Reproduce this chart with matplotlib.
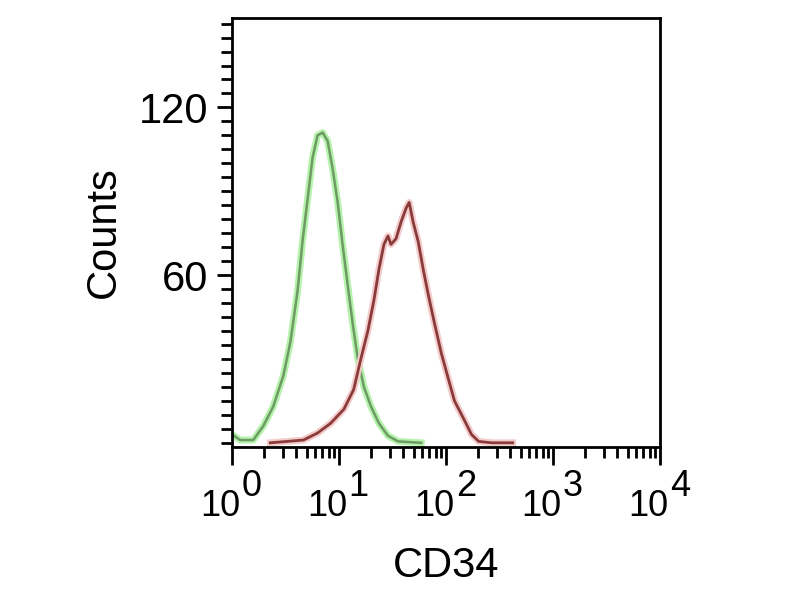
import matplotlib
matplotlib.use('Agg')
import matplotlib.pyplot as plt
import matplotlib.transforms as mtransforms
from matplotlib.ticker import FixedLocator, NullFormatter

plt.rcParams.update({
    'font.family': ['Liberation Sans', 'DejaVu Sans'],
    'axes.linewidth': 2.0,
})

# isotype control (green) and CD34 stained (red) histograms
green_x = [1.00, 1.19, 1.58, 1.96, 2.43, 3.02, 3.51, 4.09, 4.56, 5.08, 5.66, 6.30,
           7.03, 7.83, 8.73, 9.72, 10.8, 12.1, 13.5, 15.0, 17.1, 19.9, 23.6, 28.7,
           35.7, 58.7]
green_y = [3, 1, 1, 6, 13, 24, 36, 54, 72, 87, 102, 110,
           111, 108, 98, 86, 71, 56, 42, 30, 20, 13, 7, 2.5,
           0.5, 0]

red_x = [2.28, 3.29, 4.66, 6.30, 8.36, 11.1, 13.7, 16.0, 18.6, 21.2, 23.6, 26.3,
         28.7, 30.6, 34.1, 38.0, 42.4, 45.3, 49.3, 55.0, 61.3, 68.3, 77.8, 90.5,
         105, 120, 149, 173, 202, 267, 420]
red_y = [0, 0.5, 1, 3.5, 7, 12, 19, 30, 40, 51, 62, 71,
         74, 71, 73, 79, 84, 86, 79, 72, 62, 53, 43, 32,
         23, 15, 8, 3, 0.5, 0, 0]

decades = [0, 1, 2, 3, 4]
y_major = [60, 120]
y_minor = list(range(0, 155, 5))

fig = plt.figure(figsize=(8, 6), dpi=100)
ax = fig.add_axes([0.29, 0.255, 0.535, 0.715])

# soft halo + core line to mimic the blurred trace look
ax.plot(green_x, green_y, color='#b5f3ad', lw=5, solid_joinstyle='round')
ax.plot(green_x, green_y, color='#6e9a63', lw=1.8)
ax.plot(red_x, red_y, color='#f3cccc', lw=5, solid_joinstyle='round')
ax.plot(red_x, red_y, color='#8b3a3a', lw=2.0)

ax.set_xscale('log')
ax.set_xlim(1, 1e4)
ax.set_ylim(-1.5, 152)

ax.yaxis.set_major_locator(FixedLocator(y_major))
ax.yaxis.set_minor_locator(FixedLocator([v for v in y_minor if v not in y_major]))
ax.tick_params(axis='y', which='major', direction='out', length=11, width=2,
               labelsize=30, pad=6)
ax.tick_params(axis='y', which='minor', direction='out', length=8, width=2)

ax.xaxis.set_major_locator(FixedLocator([10 ** d for d in decades]))
ax.xaxis.set_major_formatter(NullFormatter())
ax.xaxis.set_minor_formatter(NullFormatter())
ax.tick_params(axis='x', which='major', direction='out', length=13, width=2)
ax.tick_params(axis='x', which='minor', direction='out', length=8, width=2)

# "10" with a full-size raised exponent, as in the reference
trans = mtransforms.blended_transform_factory(ax.transData, ax.transAxes)
for d in decades:
    ax.annotate('10', xy=(10 ** d, 0), xycoords=trans, xytext=(6, -30),
                textcoords='offset points', ha='right', va='top',
                fontsize=26, annotation_clip=False)
    ax.annotate(str(d), xy=(10 ** d, 0), xycoords=trans, xytext=(7, -16),
                textcoords='offset points', ha='left', va='top',
                fontsize=26, annotation_clip=False)

ax.set_ylabel('Counts', fontsize=30, labelpad=11)
ax.set_xlabel('CD34', fontsize=30, labelpad=55)

fig.savefig('out.png', dpi=100)
